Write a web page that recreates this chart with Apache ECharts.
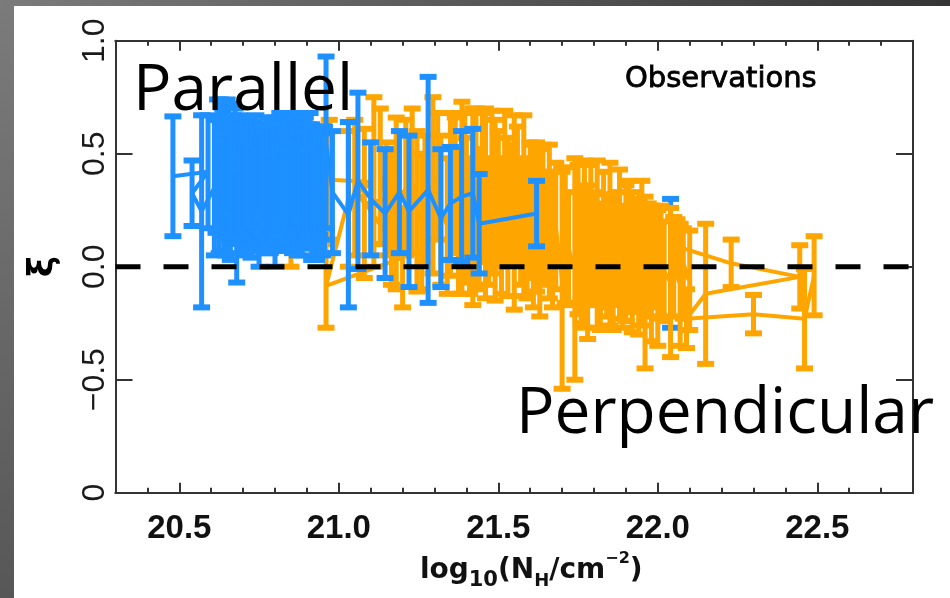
<!DOCTYPE html>
<html>
<head>
<meta charset="utf-8">
<script src="https://cdn.jsdelivr.net/npm/echarts@6/dist/echarts.min.js"></script>
<style>html,body{margin:0;padding:0;background:#fff}#c{width:950px;height:598px}</style>
</head>
<body>
<div id="c"></div>
<script>
// ---- axis ticks and labels ----
const xMajorTicks = [20.5, 21.0, 21.5, 22.0, 22.5];
const xTickLabels = ['20.5', '21.0', '21.5', '22.0', '22.5'];
const xMinorTicks = [20.4, 20.6, 20.7, 20.8, 20.9, 21.1, 21.2, 21.3, 21.4, 21.6, 21.7, 21.8, 21.9, 22.1, 22.2, 22.3, 22.4, 22.6, 22.7];
const yTickValues = [-1, -0.5, 0, 0.5, 1];
const yTickLabels = ['0', '\u22120.5', '0.0', '0.5', '1.0'];
const yMajorTicks = [-0.5, 0, 0.5];

// ---- zero reference line ----
const refLineX = [20.3, 22.8];
const refLineY = [0, 0];

// ---- Parallel (blue) : x, xi, error ----
const blueX = [20.48, 20.59, 20.54, 20.57, 20.61, 20.615, 20.62, 20.625, 20.63, 20.635, 20.64, 20.645, 20.65, 20.655, 20.66, 20.665, 20.67, 20.675, 20.68, 20.685, 20.69, 20.695, 20.70, 20.705, 20.71, 20.715, 20.72, 20.725, 20.73, 20.735, 20.74, 20.745, 20.75, 20.755, 20.76, 20.765, 20.77, 20.775, 20.78, 20.785, 20.79, 20.795, 20.80, 20.805, 20.81, 20.815, 20.82, 20.825, 20.83, 20.835, 20.84, 20.845, 20.85, 20.855, 20.86, 20.865, 20.87, 20.875, 20.88, 20.885, 20.89, 20.895, 20.90, 20.905, 20.91, 20.915, 20.92, 20.925, 20.93, 20.935, 20.94, 20.945, 20.95, 20.955, 20.96,
  20.98, 21.03, 21.06, 21.10, 21.145, 21.19, 21.22, 21.28, 21.32, 21.35, 21.385, 21.42, 21.44, 21.62];
const blueY = [0.40, 0.42, 0.325, 0.245, 0.35, 0.40, 0.45, 0.36, 0.44, 0.44, 0.40, 0.32, 0.43, 0.42, 0.33, 0.37, 0.45, 0.40, 0.18, 0.34, 0.40, 0.38, 0.35, 0.40, 0.30, 0.36, 0.40, 0.34, 0.33, 0.38, 0.38, 0.35, 0.30, 0.39, 0.42, 0.33, 0.36, 0.39, 0.28, 0.36, 0.40, 0.40, 0.33, 0.35, 0.43, 0.38, 0.35, 0.40, 0.38, 0.34, 0.30, 0.39, 0.42, 0.36, 0.36, 0.41, 0.32, 0.37, 0.44, 0.34, 0.35, 0.40, 0.30, 0.36, 0.40, 0.33, 0.33, 0.36, 0.28, 0.35, 0.36, 0.37, 0.32, 0.34, 0.55,
  0.33, 0.23, 0.38, 0.30, 0.235, 0.33, 0.245, 0.34, 0.215, 0.28, 0.31, 0.325, 0.19, 0.235];
const blueErr = [0.265, 0.25, 0.145, 0.425, 0.30, 0.25, 0.29, 0.30, 0.30, 0.26, 0.33, 0.27, 0.31, 0.30, 0.30, 0.24, 0.22, 0.30, 0.25, 0.28, 0.27, 0.28, 0.22, 0.24, 0.25, 0.28, 0.25, 0.30, 0.20, 0.26, 0.29, 0.28, 0.30, 0.24, 0.20, 0.27, 0.26, 0.27, 0.22, 0.30, 0.25, 0.24, 0.33, 0.27, 0.22, 0.30, 0.28, 0.26, 0.30, 0.27, 0.22, 0.28, 0.25, 0.30, 0.20, 0.25, 0.27, 0.27, 0.24, 0.29, 0.25, 0.26, 0.22, 0.27, 0.28, 0.30, 0.20, 0.25, 0.25, 0.27, 0.22, 0.25, 0.27, 0.28, 0.38,
  0.27, 0.41, 0.39, 0.25, 0.285, 0.27, 0.335, 0.50, 0.305, 0.25, 0.29, 0.285, 0.22, 0.145];
// one parallel point hidden behind the perpendicular cloud
const blueBehindX = [22.04];
const blueBehindY = [0.015];
const blueBehindErr = [0.285];

// ---- Perpendicular (orange) : x, xi, error ----
const orangeX = [20.85, 20.97, 21.11, 21.03, 20.96, 21.20, 21.05, 21.08, 21.15, 21.13, 21.18, 21.165, 21.21, 21.23, 21.245, 21.26, 21.27, 21.295, 21.31, 21.32, 21.34, 21.35, 21.365, 21.375, 21.386, 21.395, 21.40, 21.41, 21.42,
  21.43, 21.44, 21.45, 21.46, 21.47, 21.48, 21.49, 21.50, 21.51, 21.52, 21.53, 21.54, 21.55, 21.56, 21.57, 21.58, 21.59, 21.60,
  21.61, 21.62, 21.63, 21.64, 21.65, 21.66, 21.67, 21.68, 21.70, 21.71, 21.72, 21.74, 21.75, 21.76, 21.77, 21.78, 21.79, 21.80,
  21.81, 21.82, 21.83, 21.84, 21.85, 21.86, 21.87, 21.88, 21.89, 21.90, 21.91, 21.92, 21.93, 21.94, 21.95, 21.96, 21.97, 21.98,
  21.99, 22.00, 22.01, 22.02, 22.04, 22.05, 22.07, 22.08, 22.10, 22.06, 22.23, 22.445, 22.15, 22.09, 22.30, 22.46, 22.49];
const orangeY = [0.30, 0.385, 0.375, 0.30, -0.085, 0.04, 0.35, 0.28, 0.30, 0.40, 0.28, 0.22, 0.35, 0.38, 0.245, 0.20, 0.30, 0.36, 0.40, 0.25, 0.18, 0.32, 0.36, 0.20, 0.305, 0.40, 0.25, 0.18, 0.265,
  0.30, 0.22, 0.35, 0.28, 0.20, 0.33, 0.25, 0.30, 0.18, 0.36, 0.22, 0.28, 0.24, 0.32, 0.20, 0.27, 0.16, 0.25,
  0.18, 0.22, 0.15, 0.24, 0.17, 0.20, 0.12, 0.18, -0.06, 0.14, 0.08, -0.01, 0.12, 0.05, 0.10, 0.02, 0.15, 0.08,
  0.10, 0.00, 0.12, 0.05, 0.10, 0.02, 0.08, 0.10, 0.00, 0.06, 0.10, 0.02, 0.05, 0.00, 0.06, -0.07, 0.03, -0.03,
  0.04, -0.05, 0.02, -0.02, -0.07, 0.00, -0.08, -0.03, -0.06, 0.09, 0.015, -0.045, -0.12, -0.23, -0.21, -0.23, -0.04];
const orangeErr = [0.30, 0.265, 0.375, 0.30, 0.185, 0.22, 0.30, 0.33, 0.25, 0.30, 0.38, 0.30, 0.30, 0.32, 0.355, 0.30, 0.28, 0.39, 0.28, 0.33, 0.30, 0.36, 0.30, 0.32, 0.425, 0.28, 0.32, 0.30, 0.435,
  0.40, 0.30, 0.33, 0.42, 0.28, 0.36, 0.40, 0.30, 0.30, 0.33, 0.35, 0.26, 0.43, 0.30, 0.28, 0.40, 0.30, 0.30,
  0.36, 0.33, 0.37, 0.30, 0.25, 0.34, 0.30, 0.28, 0.48, 0.30, 0.25, 0.49, 0.33, 0.30, 0.37, 0.34, 0.30, 0.25,
  0.37, 0.28, 0.30, 0.27, 0.36, 0.30, 0.25, 0.33, 0.27, 0.30, 0.28, 0.31, 0.25, 0.30, 0.32, 0.38, 0.25, 0.30,
  0.22, 0.30, 0.25, 0.22, 0.33, 0.22, 0.27, 0.20, 0.22, 0.12, 0.105, 0.14, 0.31, 0.13, 0.085, 0.22, 0.175];

const BLUE = '#1E90FF';
const ORANGE = '#FFA500';

function triples(xs, ys, es) { return xs.map((x, i) => [x, ys[i], es[i]]); }
function pairs(xs, ys) { return xs.map((x, i) => [x, ys[i]]); }

function errBar(color) {
  return function (params, api) {
    const x = api.value(0), y = api.value(1), e = api.value(2);
    const p = api.coord([x, y + e]);
    const q = api.coord([x, y - e]);
    const capW = 17, capH = 6, barW = 5;
    const st = { fill: color };
    return {
      type: 'group',
      children: [
        { type: 'rect', shape: { x: p[0] - barW / 2, y: p[1], width: barW, height: q[1] - p[1] }, style: st },
        { type: 'rect', shape: { x: p[0] - capW / 2, y: p[1] - capH / 2, width: capW, height: capH }, style: st },
        { type: 'rect', shape: { x: q[0] - capW / 2, y: q[1] - capH / 2, width: capW, height: capH }, style: st }
      ]
    };
  };
}

const AXC = '#333';
const baseX = { type: 'value', min: 20.3, max: 22.8, gridIndex: 0,
  axisLine: { show: true, onZero: false, lineStyle: { color: AXC, width: 2 } },
  splitLine: { show: false } };
const NF = 'DejaVu Sans';

const chart = echarts.init(document.getElementById('c'), null, { renderer: 'canvas' });
chart.setOption({
  animation: false,
  backgroundColor: '#fff',
  grid: { left: 115.5, right: 37, top: 40.7, bottom: 105.3, containLabel: false, outerBoundsMode: 'none' },
  xAxis: [
    Object.assign({}, baseX, { position: 'bottom',
      axisTick: { show: true, inside: true, length: 10, customValues: xMajorTicks, lineStyle: { color: AXC, width: 2 } },
      axisLabel: { show: true, customValues: xMajorTicks, margin: 20,
        formatter: v => xTickLabels[xMajorTicks.indexOf(v)],
        fontFamily: 'Liberation Sans', fontWeight: 'bold', fontSize: 33, color: '#111' },
      name: '{m|log}{s|10}{m|(N}{h|H}{m|/cm}{p|\u22122}{m|)}',
      nameLocation: 'middle', nameGap: 54,
      nameTextStyle: { padding: [0, 0, 0, 34],
        rich: {
          m: { fontFamily: NF, fontWeight: 'bold', fontSize: 28, color: '#111', lineHeight: 40, verticalAlign: 'middle' },
          s: { fontFamily: NF, fontWeight: 'bold', fontSize: 21, color: '#111', lineHeight: 20, verticalAlign: 'bottom' },
          h: { fontFamily: NF, fontWeight: 'bold', fontSize: 18, color: '#111', lineHeight: 18, verticalAlign: 'bottom' },
          p: { fontFamily: NF, fontWeight: 'bold', fontSize: 16, color: '#111', lineHeight: 22, verticalAlign: 'top' }
        } } }),
    Object.assign({}, baseX, { position: 'bottom',
      axisTick: { show: true, inside: true, length: 5, customValues: xMinorTicks, lineStyle: { color: AXC, width: 2 } },
      axisLabel: { show: false } }),
    Object.assign({}, baseX, { position: 'top',
      axisTick: { show: true, inside: true, length: 10, customValues: xMajorTicks, lineStyle: { color: AXC, width: 2 } },
      axisLabel: { show: false } }),
    Object.assign({}, baseX, { position: 'top',
      axisTick: { show: true, inside: true, length: 5, customValues: xMinorTicks, lineStyle: { color: AXC, width: 2 } },
      axisLabel: { show: false } })
  ],
  yAxis: [
    { type: 'value', min: -1, max: 1, interval: 0.5, position: 'left',
      axisLine: { show: true, onZero: false, lineStyle: { color: AXC, width: 2 } },
      axisTick: { show: true, inside: true, length: 17, customValues: yMajorTicks, lineStyle: { color: AXC, width: 2 } },
      axisLabel: { show: true, customValues: yTickValues, rotate: 90, margin: 4,
        formatter: v => yTickLabels[yTickValues.indexOf(v)],
        fontFamily: 'Liberation Sans', fontSize: 32, color: '#1a1a1a' },
      splitLine: { show: false },
      name: '\u03BE', nameLocation: 'middle', nameRotate: 90, nameGap: 54,
      nameTextStyle: { fontFamily: 'DejaVu Sans', fontWeight: 'bold', fontSize: 36, color: '#000' } },
    { type: 'value', min: -1, max: 1, interval: 0.5, position: 'right',
      axisLine: { show: true, onZero: false, lineStyle: { color: AXC, width: 2 } },
      axisTick: { show: true, inside: true, length: 17, customValues: yMajorTicks, lineStyle: { color: AXC, width: 2 } },
      axisLabel: { show: false }, splitLine: { show: false } }
  ],
  series: [
    { type: 'custom', name: 'parallel-hidden', z: 1, xAxisIndex: 0, yAxisIndex: 0,
      renderItem: errBar(BLUE), data: triples(blueBehindX, blueBehindY, blueBehindErr), silent: true },
    { type: 'line', name: 'perp-line', z: 2, xAxisIndex: 0, yAxisIndex: 0, showSymbol: false, symbol: 'none',
      lineStyle: { color: ORANGE, width: 4 }, data: pairs(orangeX, orangeY), silent: true },
    { type: 'custom', name: 'perp', z: 3, xAxisIndex: 0, yAxisIndex: 0,
      renderItem: errBar(ORANGE), data: triples(orangeX, orangeY, orangeErr), silent: true },
    { type: 'line', name: 'par-line', z: 4, xAxisIndex: 0, yAxisIndex: 0, showSymbol: false, symbol: 'none',
      lineStyle: { color: BLUE, width: 4 }, data: pairs(blueX, blueY), silent: true },
    { type: 'custom', name: 'par', z: 5, xAxisIndex: 0, yAxisIndex: 0,
      renderItem: errBar(BLUE), data: triples(blueX, blueY, blueErr), silent: true },
    { type: 'line', name: 'zero', z: 6, xAxisIndex: 0, yAxisIndex: 0, showSymbol: false, symbol: 'none',
      lineStyle: { color: '#000', width: 5, type: [25, 23] }, data: pairs(refLineX, refLineY), silent: true }
  ],
  graphic: [
    { type: 'rect', left: 0, top: 0, z: 100, shape: { width: 14, height: 598 },
      style: { fill: new echarts.graphic.LinearGradient(0, 0, 0, 1, [{ offset: 0, color: '#7b7b7b' }, { offset: 1, color: '#575757' }]) } },
    { type: 'rect', left: 0, top: 0, z: 100, shape: { width: 950, height: 6 },
      style: { fill: new echarts.graphic.LinearGradient(0, 0, 1, 0, [{ offset: 0, color: '#7b7b7b' }, { offset: 1, color: '#353535' }]) } },
    { type: 'text', x: 625, y: 79, z: 100,
      style: { text: 'Observations', fontFamily: 'DejaVu Sans', fontSize: 29, fill: '#000', stroke: '#000', lineWidth: 0.8, verticalAlign: 'middle' } },
    { type: 'text', x: 133, y: 92, z: 100,
      style: { text: 'Parallel', fontFamily: 'Open Sans', fontSize: 64, fill: '#000', verticalAlign: 'middle' } },
    { type: 'text', x: 516, y: 415, z: 100,
      style: { text: 'Perpendicular', fontFamily: 'Open Sans', fontSize: 64, fill: '#000', verticalAlign: 'middle' } }
  ]
});
</script>
</body>
</html>
